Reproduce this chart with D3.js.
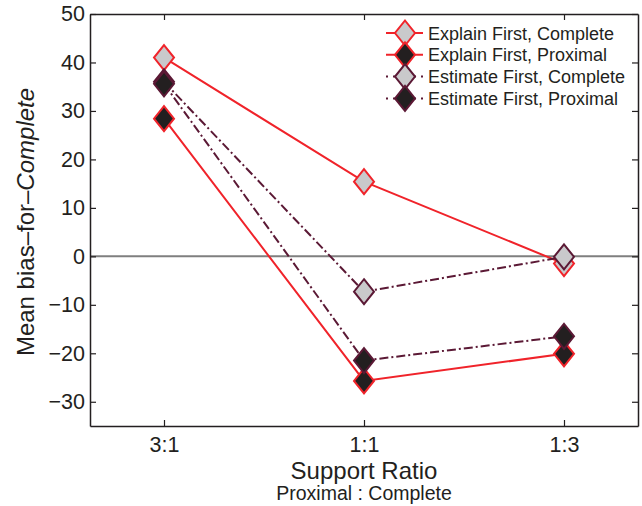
<!DOCTYPE html>
<html>
<head>
<meta charset="utf-8">
<script src="https://cdn.jsdelivr.net/npm/d3@7"></script>
<style>
  body { margin: 0; background: #fff; }
  svg { font-family: "Liberation Sans", Arial, sans-serif; }
</style>
</head>
<body>
<svg id="chart" width="642" height="506"></svg>
<script>
// data
let ratios = ["3:1", "1:1", "1:3"];
let yTicks = [-30, -20, -10, 0, 10, 20, 30, 40, 50];
let seriesNames = ["Explain First, Complete", "Explain First, Proximal",
                   "Estimate First, Complete", "Estimate First, Proximal"];
let explainComplete = [41.0, 15.4, -1.5];
let explainProximal = [28.4, -25.7, -20.1];
let estimateComplete = [36.0, -7.3, -0.1];
let estimateProximal = [35.6, -21.5, -16.5];

let red = "#f0232a", maroon = "#5b1935";
let lightFill = "#c9c9cb", darkFill = "#231f20";
let styles = [
  {stroke: red, fill: lightFill, dash: null},
  {stroke: red, fill: darkFill, dash: null},
  {stroke: maroon, fill: lightFill, dash: "9,3,2,3"},
  {stroke: maroon, fill: darkFill, dash: "9,3,2,3"}
];
let allSeries = [explainComplete, explainProximal, estimateComplete, estimateProximal];

let svg = d3.select("#chart");
let plotLeft = 90, plotRight = 638, plotTop = 14, plotBottom = 426;

let xScale = d3.scaleLinear().domain([0.63, 3.37]).range([plotLeft, plotRight]);
let yScale = d3.scaleLinear().domain([-35, 50]).range([plotBottom, plotTop]);

// diamond path (MATLAB style, a bit taller than wide)
function diamond(cx, cy, w, h) {
  return "M" + cx + "," + (cy - h) + "L" + (cx + w) + "," + cy +
         "L" + cx + "," + (cy + h) + "L" + (cx - w) + "," + cy + "Z";
}

// zero line
svg.append("line")
  .attr("x1", plotLeft).attr("x2", plotRight)
  .attr("y1", yScale(0)).attr("y2", yScale(0))
  .attr("stroke", "#7f7f7f").attr("stroke-width", 2);

// axes (box with inward ticks)
let tickLen = 6;
let xAxisB = d3.axisBottom(xScale).tickValues([1, 2, 3])
  .tickFormat((d, i) => ratios[i]).tickSizeInner(-tickLen).tickSizeOuter(0).tickPadding(11);
let xAxisT = d3.axisTop(xScale).tickValues([1, 2, 3])
  .tickFormat("").tickSizeInner(-tickLen).tickSizeOuter(0);
let yAxisL = d3.axisLeft(yScale).tickValues(yTicks)
  .tickFormat(d => d < 0 ? "\u2212" + Math.abs(d) : d).tickSizeInner(-tickLen).tickSizeOuter(0).tickPadding(5);
let yAxisR = d3.axisRight(yScale).tickValues(yTicks)
  .tickFormat("").tickSizeInner(-tickLen).tickSizeOuter(0);

svg.append("g").attr("transform", "translate(0," + plotBottom + ")").call(xAxisB);
svg.append("g").attr("transform", "translate(0," + plotTop + ")").call(xAxisT);
svg.append("g").attr("transform", "translate(" + plotLeft + ",0)").call(yAxisL);
svg.append("g").attr("transform", "translate(" + plotRight + ",0)").call(yAxisR);

svg.selectAll(".domain").attr("stroke", "#231f20").attr("stroke-width", 1.5);
svg.selectAll(".tick line").attr("stroke", "#231f20").attr("stroke-width", 1.2);
svg.selectAll(".tick text").attr("fill", "#231f20").style("font-size", "21.5px");

// series
let line = d3.line().x((d, i) => xScale(i + 1)).y(d => yScale(d));
allSeries.forEach(function(vals, k) {
  let st = styles[k];
  svg.append("path")
    .attr("d", line(vals))
    .attr("fill", "none")
    .attr("stroke", st.stroke)
    .attr("stroke-width", 2)
    .attr("stroke-dasharray", st.dash);
  svg.selectAll(".m" + k).data(vals).enter().append("path")
    .attr("class", "m" + k)
    .attr("d", (d, i) => diamond(xScale(i + 1), yScale(d), 10, 12.5))
    .attr("fill", st.fill)
    .attr("stroke", st.stroke)
    .attr("stroke-width", 2);
});

// legend
let legend = svg.append("g");
seriesNames.forEach(function(name, k) {
  let st = styles[k];
  let y = 33 + k * 21.8;
  legend.append("line")
    .attr("x1", 386).attr("x2", 423).attr("y1", y).attr("y2", y)
    .attr("stroke", st.stroke).attr("stroke-width", 2)
    .attr("stroke-dasharray", st.dash ? "2,5" : null);
  legend.append("path")
    .attr("d", diamond(405, y, 10, 12.5))
    .attr("fill", st.fill).attr("stroke", st.stroke).attr("stroke-width", 2);
  legend.append("text")
    .attr("x", 428).attr("y", y + 6.5)
    .attr("fill", "#231f20")
    .style("font-size", "18px")
    .text(name);
});

// axis titles
svg.append("text")
  .attr("x", (plotLeft + plotRight) / 2).attr("y", 479)
  .attr("text-anchor", "middle").attr("fill", "#231f20")
  .style("font-size", "24px")
  .text("Support Ratio");
svg.append("text")
  .attr("x", (plotLeft + plotRight) / 2).attr("y", 500)
  .attr("text-anchor", "middle").attr("fill", "#231f20")
  .style("font-size", "19.5px")
  .text("Proximal : Complete");

let yl = svg.append("text")
  .attr("transform", "translate(34,222) rotate(-90)")
  .attr("text-anchor", "middle").attr("fill", "#231f20")
  .style("font-size", "24px");
yl.append("tspan").text("Mean bias\u2013for\u2013");
yl.append("tspan").style("font-style", "italic").text("Complete");
</script>
</body>
</html>
